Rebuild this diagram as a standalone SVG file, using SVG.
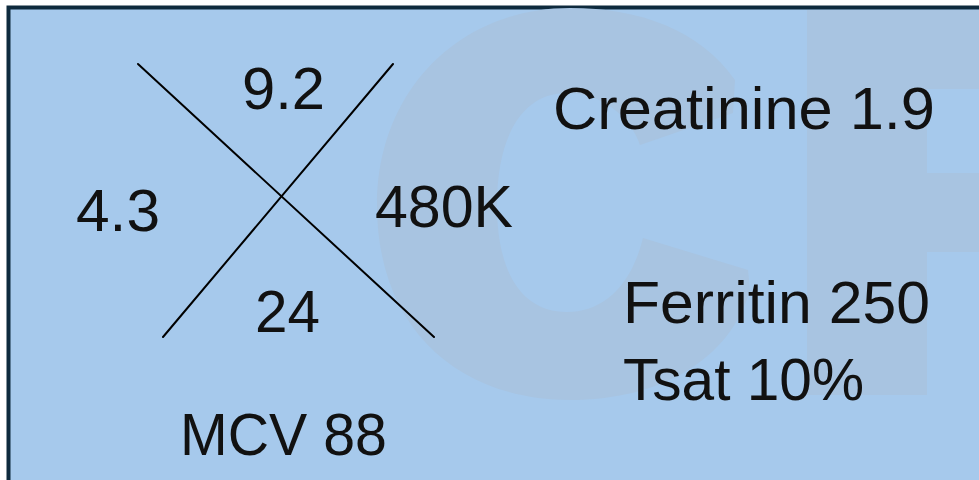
<svg xmlns="http://www.w3.org/2000/svg" width="979" height="480" viewBox="0 0 979 480">
  <style>
    .lbl { font-family: "Liberation Sans", Arial, sans-serif; font-size: 59px; fill: #111111; }
    .mark { fill: #a8c4e1; }
    .cross { stroke: #000000; stroke-width: 2; stroke-linecap: round; fill: none; }
  </style>

  <!-- page and framed panel -->
  <rect x="0" y="0" width="979" height="480" fill="#ffffff"/>
  <rect id="panel" x="8.5" y="7.5" width="1000" height="500" fill="#a6c9ec" stroke="#0e2a3d" stroke-width="4"/>

  <!-- faint background lettering -->
  <g id="backdrop">
    <path class="mark" d="M 735 80 C 700 30 640 8 570 8 C 460 8 377 90 377 205 C 377 330 460 400 570 400 C 660 400 730 360 750 290 L 748 270 L 643 238 C 630 290 600 312 567 312 C 520 312 497 270 497 205 C 497 140 520 93 567 93 C 600 93 630 115 640 145 L 733 113 Z"/>
    <path class="mark" d="M 807 10 L 979 10 L 979 89 L 927 89 L 927 173 L 979 173 L 979 252 L 927 252 L 927 395 L 807 395 Z"/>
  </g>

  <!-- the X connectors -->
  <g id="connectors">
    <line class="cross" x1="138" y1="64" x2="434" y2="337"/>
    <line class="cross" x1="393" y1="64" x2="163" y2="337"/>
  </g>

  <g id="top-value"><text class="lbl" x="242" y="109" textLength="83" lengthAdjust="spacingAndGlyphs">9.2</text></g>
  <g id="left-value"><text class="lbl" x="76" y="231" textLength="84" lengthAdjust="spacingAndGlyphs">4.3</text></g>
  <g id="right-value"><text class="lbl" x="375" y="227" textLength="138" lengthAdjust="spacingAndGlyphs">480K</text></g>
  <g id="bottom-value"><text class="lbl" x="255" y="332" textLength="65" lengthAdjust="spacingAndGlyphs">24</text></g>
  <g id="mcv"><text class="lbl" x="180" y="455" textLength="207" lengthAdjust="spacingAndGlyphs">MCV 88</text></g>
  <g id="creatinine"><text class="lbl" x="553" y="129" textLength="382" lengthAdjust="spacingAndGlyphs">Creatinine 1.9</text></g>
  <g id="ferritin"><text class="lbl" x="623" y="323" textLength="307" lengthAdjust="spacingAndGlyphs">Ferritin 250</text></g>
  <g id="tsat"><text class="lbl" x="623" y="400" textLength="241" lengthAdjust="spacingAndGlyphs">Tsat 10%</text></g>
</svg>
